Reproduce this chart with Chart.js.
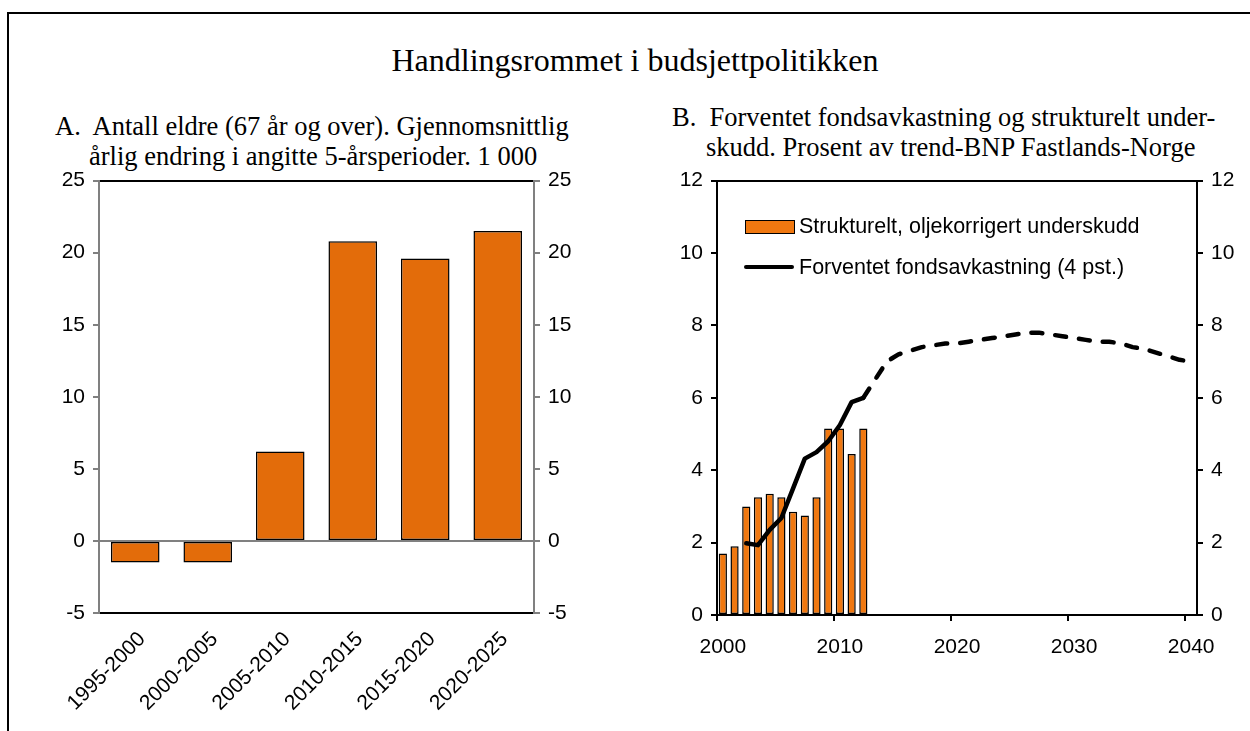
<!DOCTYPE html>
<html lang="no">
<head>
<meta charset="UTF-8">
<title>Handlingsrommet i budsjettpolitikken</title>
<script src="https://cdn.jsdelivr.net/npm/chart.js"></script>
<style>
    body { margin: 0; background: #fff; width: 1250px; height: 731px; overflow: hidden; position: relative;
           font-family: "Liberation Sans", Arial, sans-serif; color: #000; }
    .ramme { position: absolute; left: 7px; top: 12px; width: 1300px; height: 800px;
             border-left: 2px solid #000; border-top: 2px solid #000; }
    .tittel { position: absolute; left: 0; top: 41px; width: 1270px; text-align: center;
              font-family: "Liberation Serif", "Times New Roman", serif; font-size: 32px; line-height: 38px; }
    .sub { position: absolute; font-family: "Liberation Serif", "Times New Roman", serif; font-size: 26.5px;
           line-height: 29px; white-space: nowrap; }
    canvas { position: absolute; }
    .leg { position: absolute; font-size: 21.5px; line-height: 24px; white-space: nowrap; }
    .boks { position: absolute; left: 745px; top: 220px; width: 48px; height: 12px; background: #F07810;
            border: 1.5px solid #000; }
    .strek { position: absolute; left: 744px; top: 265px; width: 50px; height: 4px; background: #000; border-radius: 2px; }
</style>
</head>
<body>

<div class="ramme"></div>
<div class="tittel">Handlingsrommet i budsjettpolitikken</div>

<div class="sub" style="left:55px; top:112px;">A.&nbsp; Antall eldre (67 år og over). Gjennomsnittlig</div>
<div class="sub" style="left:89px; top:142px;">årlig endring i angitte 5-årsperioder. 1 000</div>

<div class="sub" style="left:672px; top:103px;">B.&nbsp; Forventet fondsavkastning og strukturelt under-</div>
<div class="sub" style="left:706px; top:133px;">skudd. Prosent av trend-BNP Fastlands-Norge</div>

<canvas id="grafA" width="560" height="571" style="left:20px; top:160px;"></canvas>
<canvas id="grafB" width="610" height="571" style="left:640px; top:160px;"></canvas>

<div class="boks"></div>
<div class="leg" style="left:799px; top:214px;">Strukturelt, oljekorrigert underskudd</div>
<div class="strek"></div>
<div class="leg" style="left:799px; top:255px;">Forventet fondsavkastning (4 pst.)</div>

<script>
    // Panel A - antall eldre, 1 000
    const perioder = ['1995-2000', '2000-2005', '2005-2010', '2010-2015', '2015-2020', '2020-2025'];
    const eldreEndring = [-1.5, -1.5, 6.2, 20.8, 19.6, 21.5];

    // Panel B - prosent av trend-BNP
    const aar = [];
    for (let a = 2000; a <= 2040; a++) aar.push(String(a));

    // 2000-2012
    const underskudd = [1.7, 1.9, 3.0, 3.25, 3.35, 3.25, 2.85, 2.75, 3.25, 5.15, 5.15, 4.45, 5.15];

    // 2000-2040 (null der det ikke er tall), stiplet fra 2012
    const fondsavkastning = [null, null,
        1.98, 1.93, 2.35, 2.68, 3.5, 4.32, 4.5, 4.8, 5.25, 5.88,
        6.0, 6.5, 7.0, 7.2, 7.3, 7.4, 7.45, 7.5, 7.5, 7.55,
        7.6, 7.65, 7.7, 7.75, 7.8, 7.8, 7.75, 7.7, 7.65, 7.6,
        7.55, 7.55, 7.5, 7.4, 7.35, 7.25, 7.15, 7.05, 7.0];
    const prognoseFra = 12; // indeks for 2012

    const tickFont = { family: 'Liberation Sans', size: 21 };
    const gra = '#808080';

    function fastBredde(w) { return function (scale) { scale.width = w; }; }
    function fastHoyde(h) { return function (scale) { scale.height = h; }; }

    // GRAFIKK A
    new Chart(document.getElementById('grafA'), {
        type: 'bar',
        data: {
            labels: perioder,
            datasets: [{
                data: eldreEndring,
                backgroundColor: '#E36C0A',
                borderColor: '#000',
                borderWidth: 1.5,
                borderSkipped: false,
                barPercentage: 0.67,
                categoryPercentage: 1.0
            }]
        },
        options: {
            responsive: false,
            animation: false,
            layout: { padding: { top: 15, left: 0, right: 0, bottom: 0 } },
            plugins: { legend: { display: false }, tooltip: { enabled: false } },
            scales: {
                x: {
                    grid: { display: false },
                    border: { color: '#000', width: 2 },
                    ticks: { color: '#000', font: { family: 'Liberation Sans', size: 21 },
                             minRotation: 45, maxRotation: 45, padding: 6, labelOffset: 7, autoSkip: false },
                    afterFit: fastHoyde(118)
                },
                xTopp: {
                    position: 'top',
                    type: 'linear', min: 0, max: 1,
                    grid: { display: false },
                    ticks: { display: false },
                    border: { color: '#000', width: 2 },
                    afterFit: fastHoyde(0)
                },
                y: {
                    min: -5, max: 25,
                    ticks: { stepSize: 5, color: '#000', font: tickFont, padding: 8 },
                    grid: {
                        color: (ctx) => (ctx.tick && ctx.tick.value === 0) ? gra : 'transparent',
                        tickColor: gra, tickLength: 6, lineWidth: 2
                    },
                    border: { color: gra, width: 2 },
                    afterFit: fastBredde(79)
                },
                y2: {
                    position: 'right',
                    min: -5, max: 25,
                    ticks: { stepSize: 5, color: '#000', font: tickFont, padding: 8 },
                    grid: { drawOnChartArea: false, tickColor: gra, tickLength: 6, lineWidth: 2 },
                    border: { color: gra, width: 2 },
                    afterFit: fastBredde(46)
                }
            }
        }
    });

    // GRAFIKK B
    new Chart(document.getElementById('grafB'), {
        type: 'bar',
        data: {
            labels: aar,
            datasets: [{
                type: 'line',
                label: 'Forventet fondsavkastning (4 pst.)',
                data: fondsavkastning,
                borderColor: '#000',
                borderWidth: 4.5,
                borderCapStyle: 'round',
                borderJoinStyle: 'round',
                pointRadius: 0,
                tension: 0,
                order: 0,
                segment: {
                    borderDash: (ctx) => ctx.p0DataIndex >= prognoseFra ? [11, 13] : undefined
                }
            }, {
                label: 'Strukturelt, oljekorrigert underskudd',
                data: underskudd,
                backgroundColor: '#F07810',
                borderColor: '#000',
                borderWidth: 1.5,
                borderSkipped: false,
                barPercentage: 0.7,
                categoryPercentage: 1.0,
                order: 1
            }]
        },
        options: {
            responsive: false,
            animation: false,
            layout: { padding: { top: 15, left: 0, right: 0, bottom: 0 } },
            plugins: { legend: { display: false }, tooltip: { enabled: false } },
            scales: {
                x: {
                    offset: true,
                    grid: {
                        offset: true,
                        drawOnChartArea: false,
                        tickLength: 6, lineWidth: 2,
                        tickColor: (ctx) => (ctx.index !== undefined && ctx.index % 10 === 0) ? '#000' : 'transparent'
                    },
                    border: { color: '#000', width: 2 },
                    ticks: {
                        color: '#000', font: tickFont, padding: 14, autoSkip: false, maxRotation: 0,
                        callback: (v, i) => i % 10 === 0 ? aar[i] : ''
                    },
                    afterFit: fastHoyde(116)
                },
                xTopp: {
                    position: 'top',
                    type: 'linear', min: 0, max: 1,
                    grid: { display: false },
                    ticks: { display: false },
                    border: { color: '#000', width: 2 },
                    afterFit: fastHoyde(0)
                },
                y: {
                    min: 0, max: 12,
                    ticks: { stepSize: 2, color: '#000', font: tickFont, padding: 8 },
                    grid: { drawOnChartArea: false, tickColor: '#000', tickLength: 6, lineWidth: 2 },
                    border: { color: '#000', width: 2 },
                    afterFit: fastBredde(77)
                },
                y2: {
                    position: 'right',
                    min: 0, max: 12,
                    ticks: { stepSize: 2, color: '#000', font: tickFont, padding: 8 },
                    grid: { drawOnChartArea: false, tickColor: '#000', tickLength: 6, lineWidth: 2 },
                    border: { color: '#000', width: 2 },
                    afterFit: fastBredde(53)
                }
            }
        }
    });
</script>
</body>
</html>
